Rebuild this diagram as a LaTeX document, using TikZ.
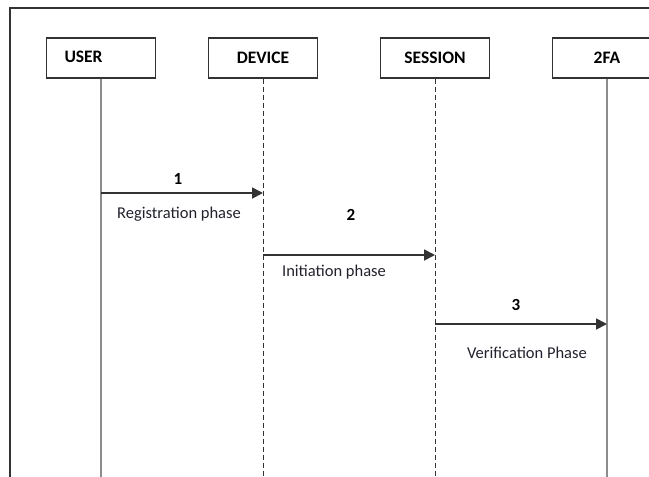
\documentclass[tikz,border=0pt]{standalone}
\usepackage{fontspec}
\setmainfont{Carlito}
\usepackage{xcolor}
\usepackage{tikz}
\usetikzlibrary{positioning, arrows.meta, calc}
\definecolor{linegray}{HTML}{8C8C8C}
\definecolor{framegray}{HTML}{333333}
\definecolor{labelblue}{HTML}{22222E}

\begin{document}
\begin{tikzpicture}[x=1pt, y=-1pt,
    actor/.style={draw=framegray, line width=1.2pt, minimum width=109pt, minimum height=40pt,
                  inner sep=0pt, font=\fontsize{17.5}{17.5}\selectfont\bfseries},
    solidlife/.style={draw=linegray, line width=2pt},
    dashlife/.style={draw=framegray, line width=1pt, dash pattern=on 5pt off 3pt},
    msg/.style={draw=framegray, line width=1.8pt, -{Triangle[length=11pt, width=11pt]}},
    num/.style={font=\fontsize{17}{17}\selectfont\bfseries},
    phase/.style={font=\fontsize{16.5}{16.5}\selectfont, text=labelblue}]
    \useasboundingbox (0,0) rectangle (649,477);
    % outer frame, open at the right and at the bottom
    \draw[framegray, line width=1.2pt] (10,480) -- (10,8) -- (660,8);

    % participants
    \node[actor, text width=73pt, align=left] (user) at (101,58) {\raisebox{2pt}{USER}};
    \node[actor] (device) at (263,58) {DEVICE};
    \node[actor] (session) at (435,58) {SESSION};
    \node[actor] (tfa) at (607,58) {2FA};

    % lifeline ends
    \coordinate (userend) at (user.south |- 0,480);
    \coordinate (deviceend) at (device.south |- 0,480);
    \coordinate (sessionend) at (session.south |- 0,480);
    \coordinate (tfaend) at (tfa.south |- 0,480);

    \draw[solidlife] (user.south) -- (userend);
    \draw[dashlife] (device.south) -- (deviceend);
    \draw[dashlife] (session.south) -- (sessionend);
    \draw[solidlife] (tfa.south) -- (tfaend);

    % messages
    \coordinate (m1s) at (user.south |- 0,193);
    \coordinate (m1e) at (device.south |- 0,193);
    \coordinate (m2s) at (device.south |- 0,255);
    \coordinate (m2e) at (session.south |- 0,255);
    \coordinate (m3s) at (session.south |- 0,324);
    \coordinate (m3e) at (tfa.south |- 0,324);

    \draw[msg] (m1s) -- (m1e);
    \draw[msg] (m2s) -- (m2e);
    \draw[msg] (m3s) -- (m3e);

    \node[num] (n1) at (178,179) {1};
    \node[phase] (p1) at (179,214) {Registration phase};
    \node[num] (n2) at (351,215) {2};
    \node[phase] (p2) at (334,272) {Initiation phase};
    \node[num] (n3) at (516,305) {3};
    \node[phase] (p3) at (527,353) {Verification Phase};
  \end{tikzpicture}
\end{document}
